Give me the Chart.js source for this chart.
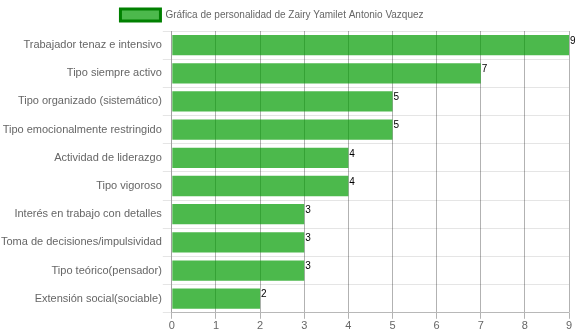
<!DOCTYPE html>
<html>
<head>
<meta charset="utf-8">
<script src="https://cdn.jsdelivr.net/npm/chart.js@4/dist/chart.umd.min.js"></script>
<style>
  html, body { margin: 0; padding: 0; background: #fff; }
  #wrap { width: 575px; height: 334px; }
</style>
</head>
<body>
<div id="wrap"><canvas id="chart"></canvas></div>
<script>
const categories = [
    'Trabajador tenaz e intensivo',
    'Tipo siempre activo',
    'Tipo organizado (sistemático)',
    'Tipo emocionalmente restringido',
    'Actividad de liderazgo',
    'Tipo vigoroso',
    'Interés en trabajo con detalles',
    'Toma de decisiones/impulsividad',
    'Tipo teórico(pensador)',
    'Extensión social(sociable)'
];
const seriesLabel = 'Gráfica de personalidad de Zairy Yamilet Antonio Vazquez';
const values = [9, 7, 5, 5, 4, 4, 3, 3, 3, 2];
const xTicks = [0, 1, 2, 3, 4, 5, 6, 7, 8, 9];

// small value labels at the end of each bar
const valueLabels = {
    id: 'valueLabels',
    afterDatasetsDraw(chart) {
        const ctx = chart.ctx;
        const meta = chart.getDatasetMeta(0);
        ctx.save();
        ctx.font = '10px Arial, "Liberation Sans", sans-serif';
        ctx.fillStyle = '#000';
        ctx.textAlign = 'left';
        ctx.textBaseline = 'middle';
        meta.data.forEach(function (bar, i) {
            ctx.fillText(values[i], bar.x + 1, bar.y - 4);
        });
        ctx.restore();
    }
};

Chart.defaults.font.family = 'Arial, "Liberation Sans", sans-serif';
Chart.defaults.font.size = 11;
Chart.defaults.color = '#666';

new Chart(document.getElementById('chart'), {
    type: 'bar',
    data: {
        labels: categories,
        datasets: [{
            label: seriesLabel,
            data: values,
            backgroundColor: 'rgba(0, 155, 0, 0.7)',
            borderWidth: 0
        }]
    },
    options: {
        indexAxis: 'y',
        responsive: true,
        maintainAspectRatio: false,
        animation: false,
        layout: { padding: { right: 6, bottom: 0 } },
        plugins: {
            legend: {
                labels: {
                    boxWidth: 40,
                    boxHeight: 12,
                    padding: 9,
                    font: { size: 10 },
                    generateLabels: function (chart) {
                        return [{
                            // trailing spaces push the item a bit to the left, as in the original
                            text: seriesLabel + '         ',
                            fillStyle: 'rgba(0, 155, 0, 0.7)',
                            strokeStyle: 'rgb(0, 128, 0)',
                            lineWidth: 3,
                            datasetIndex: 0,
                            fontColor: '#666'
                        }];
                    }
                }
            },
            tooltip: { enabled: false }
        },
        scales: {
            x: {
                min: 0,
                max: 9,
                afterBuildTicks: function (axis) {
                    axis.ticks = xTicks.map(v => ({ value: v }));
                },
                grid: {
                    color: 'rgba(0, 0, 0, 0.3)',
                    tickLength: 6
                },
                border: { color: 'rgba(0, 0, 0, 0.2)' },
                ticks: { padding: 1 }
            },
            y: {
                grid: {
                    color: 'rgba(0, 0, 0, 0.1)',
                    offset: true,
                    tickLength: 9
                },
                border: { color: 'rgba(0, 0, 0, 0.1)' },
                ticks: { padding: 1 }
            }
        }
    },
    plugins: [valueLabels]
});
</script>
</body>
</html>
